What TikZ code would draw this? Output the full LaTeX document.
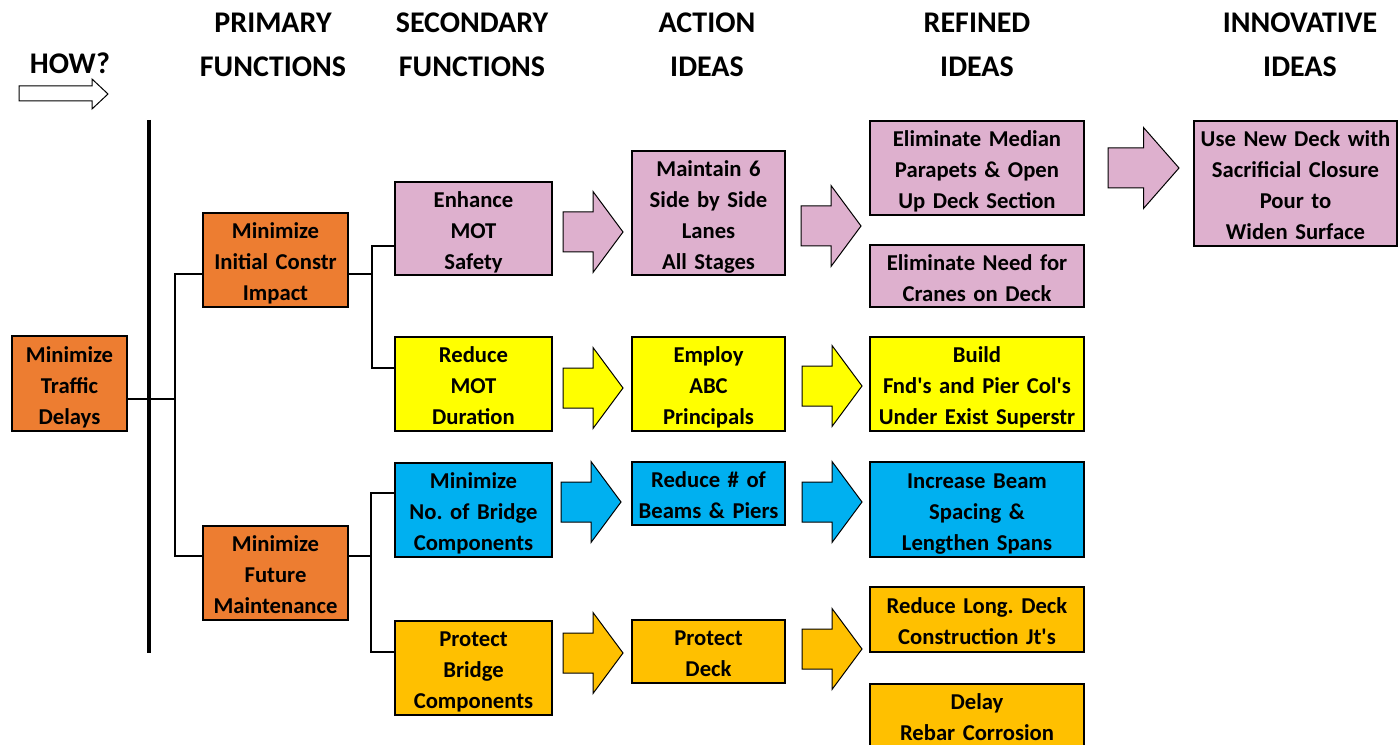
\documentclass[tikz,border=0pt]{standalone}
\usepackage{fontspec}
\setmainfont{Carlito}
\usetikzlibrary{calc}
\definecolor{fnorange}{RGB}{237,125,49}
\definecolor{fnpink}{RGB}{222,176,206}
\definecolor{fnyellow}{RGB}{255,255,0}
\definecolor{fnblue}{RGB}{0,176,240}
\definecolor{fngold}{RGB}{255,192,0}
\frenchspacing
\tikzset{
  fn/.style={draw, line width=1.5pt, align=center, inner sep=0pt,
    font=\fontsize{17}{23.25}\selectfont\bfseries\frenchspacing,
    execute at begin node={\rule{0pt}{19pt}},
    execute at end node={\rule[-4.5pt]{0pt}{0pt}}},
  colhead/.style={align=center, font=\fontsize{22.5}{33}\selectfont\bfseries},
  link/.style={line width=1.2pt},
  fatline/.style={draw, line width=0.75pt, line join=miter},
  basecol/.style={fn, fill=fnorange, text width=86.25pt, minimum height=71.25pt},
  primcol/.style={fn, fill=fnorange, text width=108.75pt, minimum height=70.5pt},
  seccol/.style={fn, text width=117.75pt, minimum height=70.5pt},
  actcol/.style={fn, text width=114.75pt},
  refcol/.style={fn, text width=160.5pt},
  innocol/.style={fn, text width=152.25pt}
}
% fat block arrow: [length]{fill}{left middle point}
\newcommand{\fatarrow}[3][60]{%
  \draw[fatline, fill=#2] #3 ++(0,-20) -- ++({#1/2},0) -- ++(0,-20.5)
    -- ++({#1/2},40.5) -- ++({-#1/2},40.5) -- ++(0,-20.5) -- ++({-#1/2},0) -- cycle;}
\newcommand{\ap}{\textquotesingle}
\begin{document}
\begin{tikzpicture}[x=0.75pt,y=-0.75pt]
  \useasboundingbox (0,0) rectangle (1399,745);
  \clip (0,0) rectangle (1399,745);

  % column headings
  \node[colhead] (how) at (70,63) {HOW?};
  \draw[fatline, fill=white] (19,86) -- (92,86) -- (92,79) -- (108,94) -- (92,109) -- (92,101) -- (19,101) -- cycle;
  \node[colhead] (hprim) at (273,45) {PRIMARY\\FUNCTIONS};
  \node[colhead] (hsec) at (472,45) {SECONDARY\\FUNCTIONS};
  \node[colhead] (hact) at (707,45) {ACTION\\IDEAS};
  \node[colhead] (hrefd) at (977,45) {REFINED\\IDEAS};
  \node[colhead] (hinno) at (1300,45) {INNOVATIVE\\IDEAS};

  \draw[line width=3pt] (149,120) -- (149,653);

  % basic and primary functions
  \node[basecol] (traffic) at (69.5,383.5) {Minimize\\Traffic\\Delays};
  \node[primcol] (init) at (275.5,260) {Minimize\\Initial Constr\\Impact};
  \node[primcol] (fut) at (275.5,572.5) {Minimize\\Future\\Maintenance};

  % secondary functions
  \node[seccol, fill=fnpink, minimum height=68.25pt] (enh) at (473.5,228.5) {Enhance\\MOT\\Safety};
  \node[seccol, fill=fnyellow] (redmot) at (473.5,384) {Reduce\\MOT\\Duration};
  \node[seccol, fill=fnblue] (minno) at (473.5,509.5) {Minimize\\No. of Bridge\\Components};
  \node[seccol, fill=fngold] (protb) at (473.5,667.5) {Protect\\Bridge\\Components};

  % action ideas
  \node[actcol, fill=fnpink, minimum height=91.5pt] (lanes) at (708.5,213) {Maintain 6\\Side by Side\\Lanes\\All Stages};
  \node[actcol, fill=fnyellow, minimum height=70.5pt] (abc) at (708.5,384) {Employ\\ABC\\Principals};
  \node[actcol, fill=fnblue, minimum height=47.25pt] (beams) at (708.5,493.5) {Reduce \# of\\Beams \& Piers};
  \node[actcol, fill=fngold, minimum height=47.25pt] (pdeck) at (708.5,651.5) {Protect\\Deck};

  % refined ideas
  \node[refcol, fill=fnpink, minimum height=70.5pt] (median) at (977,168) {Eliminate Median\\Parapets \& Open\\Up Deck Section};
  \node[refcol, fill=fnpink, minimum height=46.5pt] (cranes) at (977,276) {Eliminate Need for\\Cranes on Deck};
  \node[refcol, fill=fnyellow, minimum height=70.5pt] (build) at (977,384) {Build\\Fnd\ap s and Pier Col\ap s\\Under Exist Superstr};
  \node[refcol, fill=fnblue, minimum height=71.25pt] (spans) at (977,509.5) {Increase Beam\\Spacing \&\\Lengthen Spans};
  \node[refcol, fill=fngold, minimum height=48.75pt] (joints) at (977,619.5) {Reduce Long. Deck\\Construction Jt\ap s};
  \node[refcol, fill=fngold, anchor=north, execute at end node={\rule[-20pt]{0pt}{0pt}}] (rebar) at (977,683) {Delay\\Rebar Corrosion};

  % innovative idea
  \node[innocol, fill=fnpink, minimum height=93.75pt] (closure) at (1295.5,183.5) {Use New Deck with\\Sacrificial Closure\\Pour to\\Widen Surface};

  % tree links
  \coordinate (p1) at (175,274);
  \coordinate (p2) at (175,556);
  \draw[link] (traffic.east |- 0,399) -- (p1 |- 0,399);
  \draw[link] (init.west |- p1) -- (p1) -- (p2) -- (fut.west |- p2);
  \coordinate (q1) at (372,246);
  \coordinate (q2) at (372,368);
  \draw[link] (init.east |- p1) -- (q1 |- p1);
  \draw[link] (enh.west |- q1) -- (q1) -- (q2) -- (redmot.west |- q2);
  \coordinate (q3) at (371,493);
  \coordinate (q4) at (371,652);
  \draw[link] (fut.east |- p2) -- (q3 |- p2);
  \draw[link] (minno.west |- q3) -- (q3) -- (q4) -- (protb.west |- q4);

  % block arrows
  \fatarrow{fnpink}{(563,232)}
  \fatarrow{fnpink}{(801,226)}
  \fatarrow[71]{fnpink}{(1108,168)}
  \fatarrow{fnyellow}{(563,388)}
  \fatarrow{fnyellow}{(802,386)}
  \fatarrow{fnblue}{(561,502)}
  \fatarrow{fnblue}{(802,502)}
  \fatarrow{fngold}{(563,653)}
  \fatarrow{fngold}{(802,649)}
\end{tikzpicture}
\end{document}
